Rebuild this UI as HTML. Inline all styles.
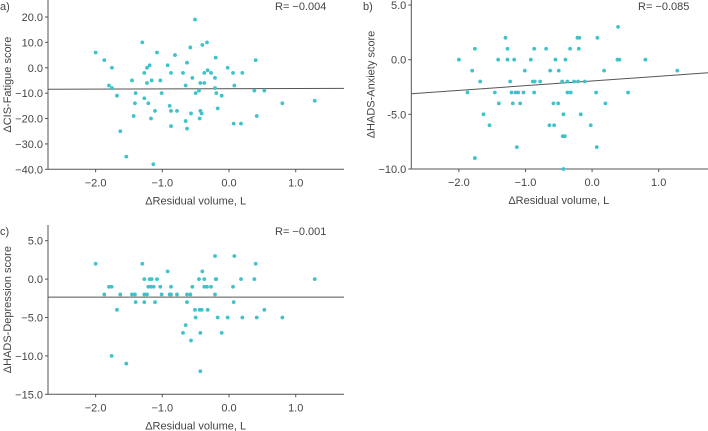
<!DOCTYPE html>
<html><head><meta charset="utf-8"><style>
html,body{margin:0;padding:0;background:#fff;}
svg{display:block;font-family:"Liberation Sans",sans-serif;}
text{fill:#444;font-size:11px;}
</style></head><body>
<svg id="chart" width="708" height="431" viewBox="0 0 708 431"></svg>
<script>
const xTicks=[-2,-1,0,1];
const xTickLabels=["\u22122.0","\u22121.0","0.0","1.0"];
const aX=[-2.0,-1.87,-1.755,-1.8,-1.755,-1.68,-1.63,-1.54,-1.455,-1.43,-1.41,-1.4,-1.3,-1.27,-1.27,-1.23,-1.23,-1.21,-1.19,-1.17,-1.16,-1.135,-1.11,-1.08,-1.03,-1.01,-0.92,-0.89,-0.87,-0.87,-0.87,-0.81,-0.78,-0.69,-0.65,-0.65,-0.63,-0.63,-0.58,-0.57,-0.55,-0.51,-0.5,-0.45,-0.44,-0.43,-0.43,-0.41,-0.4,-0.37,-0.37,-0.33,-0.32,-0.27,-0.21,-0.21,-0.2,-0.19,-0.17,-0.11,-0.02,0.06,0.07,0.08,0.18,0.2,0.38,0.4,0.415,0.53,0.8,1.285];
const aY=[6,3,0,-7,-8,-11,-25,-35,-5,-19,-14,-10,10,-2,-12,0,-6,-14,1,-20,-5,-38,-17,6,-5,-10,1,-15,-2,-17,-23,5,-17,-2,-7,-21,2,-24,8,-18,-4,19,-10,-9,-20,-6,-17,-18,9,-2,-6,10,-1,-2,-4,-8,4,-10,-16,-11,0,-2,-22,-7,-22,-2,-9,3,-19,-9,-14,-13];
const bX=[-2,-1.87,-1.8,-1.76,-1.76,-1.68,-1.63,-1.54,-1.46,-1.41,-1.4,-1.3,-1.27,-1.27,-1.23,-1.21,-1.19,-1.17,-1.15,-1.13,-1.11,-1.08,-1.03,-1.01,-0.92,-0.89,-0.87,-0.87,-0.86,-0.78,-0.69,-0.64,-0.63,-0.58,-0.57,-0.55,-0.51,-0.5,-0.45,-0.44,-0.43,-0.43,-0.41,-0.4,-0.37,-0.37,-0.33,-0.32,-0.27,-0.22,-0.21,-0.2,-0.19,-0.17,-0.11,-0.02,0.06,0.07,0.08,0.18,0.2,0.38,0.39,0.41,0.54,0.8,1.28];
const bY=[0,-3,-1,1,-9,-2,-5,-6,-3,0,-4,2,1,0,-2,-3,-4,0,-3,-8,-3,-4,-3,-1,0,-2,1,-3,-2,-2,1,-6,-1,-4,-6,0,-4,-1,-2,-7,-5,-10,-7,0,-2,-3,1,-3,-2,2,-2,1,2,-5,-2,-6,-3,-8,2,-1,-4,0,3,0,-3,0,-1];
const cX=[-2,-1.87,-1.8,-1.76,-1.76,-1.68,-1.63,-1.54,-1.455,-1.41,-1.4,-1.3,-1.27,-1.27,-1.27,-1.23,-1.21,-1.19,-1.17,-1.16,-1.13,-1.11,-1.08,-1.03,-1.01,-0.92,-0.89,-0.87,-0.87,-0.78,-0.69,-0.65,-0.63,-0.63,-0.58,-0.57,-0.55,-0.51,-0.5,-0.45,-0.44,-0.43,-0.43,-0.41,-0.4,-0.37,-0.37,-0.33,-0.32,-0.27,-0.21,-0.21,-0.2,-0.19,-0.17,-0.11,-0.02,0.06,0.07,0.08,0.18,0.2,0.38,0.4,0.415,0.53,0.8,1.285];
const cY=[2,-2,-1,-1,-10,-4,-2,-11,-2,-2,-3,2,0,-2,-3,-2,-1,0,-1,0,-1,-3,0,-1,-2,1,-2,-1,-2,-2,-7,-6,-2,-3,-2,-8,-1,-4,-5,0,-4,-7,-12,-4,1,0,-1,-1,-4,-1,3,-2,0,0,-5,-7,-5,-1,-3,3,0,-5,0,2,-5,-4,-5,0];
const aYTicks=[20,10,0,-10,-20,-30,-40];
const aYTickLabels=["20.0","10.0","0.0","\u221210.0","\u221220.0","\u221230.0","\u221240.0"];
const bYTicks=[5,0,-5,-10];
const bYTickLabels=["5.0","0.0","-5.0","\u221210.0"];
const cYTicks=[5,0,-5,-10,-15];
const cYTickLabels=["5.0","0.0","\u22125.0","\u221210.0","\u221215.0"];
const aFit=[-8.25,0.07];
const bFit=[-1.95,0.43];
const cFit=[-2.35,0.0];

const NS="http://www.w3.org/2000/svg";
const svg=document.getElementById('chart');
function mk(tag,attrs,parent){const e=document.createElementNS(NS,tag);for(const k in attrs)e.setAttribute(k,attrs[k]);parent.appendChild(e);return e;}

function panel(p){
  const g=mk('g',{},svg);
  
  
  const xs=v=>p.x0+(v-p.xd0)/(p.xd1-p.xd0)*(p.x1-p.x0);
  const ys=v=>p.yb+(v-p.yd0)/(p.yd1-p.yd0)*(p.yt-p.yb);
  const ax=mk('line',{x1:p.x0,y1:p.yb,x2:p.x1,y2:p.yb,stroke:'#555','stroke-width':1},g);
  
  
  const ay=mk('line',{x1:p.x0,y1:p.yTop,x2:p.x0,y2:p.yb,stroke:'#555','stroke-width':1},g);
  
  
  xTicks.forEach((t,i)=>{
    const x=xs(t);
    mk('line',{x1:x,y1:p.yb,x2:x,y2:p.yb+3,stroke:'#555'},g);
    const tx=mk('text',{x:x,y:p.yb+17,'text-anchor':'middle'},g);
    tx.textContent=xTickLabels[i];
    
    
  });
  p.yt_.forEach((t,i)=>{
    const y=ys(t);
    mk('line',{x1:p.x0-3,y1:y,x2:p.x0,y2:y,stroke:'#555'},g);
    const tx=mk('text',{x:p.x0-5,y:y+4,'text-anchor':'end'},g);
    tx.textContent=p.ytl[i];
    
    
  });
  const fy0=p.fit[0]+p.fit[1]*p.xd0, fy1=p.fit[0]+p.fit[1]*p.xd1;
  const fl=mk('line',{x1:p.x0,y1:ys(fy0),x2:p.x1,y2:ys(fy1),stroke:'#555','stroke-width':1},g);
  
  
  p.dx.forEach((v,i)=>{
    const c=mk('circle',{cx:xs(v),cy:ys(p.dy[i]),r:1.9,fill:'#3ec3cc'},g);
    
    
  });
  const xt=mk('text',{x:(xs(-2)+xs(1))/2,y:p.yb+35,'text-anchor':'middle','font-size':'12'},g);
  xt.textContent='\u0394Residual volume, L';
  
  
  const yt=mk('text',{x:0,y:0,'text-anchor':'middle','font-size':'12',transform:`translate(${p.x0-37},${(p.yTop+p.yb)/2}) rotate(-90)`},g);
  yt.textContent=p.ytitle;
  
  
  const r=mk('text',{x:p.rx,y:p.ry},g);
  r.textContent=p.rtext;
  
  
  const l=mk('text',{x:p.lx,y:p.ly},g);
  l.textContent=p.label;
  
  
}
panel({name:'panel-a-fatigue',x0:48,x1:344,xd0:-2.714,xd1:1.724,yb:169.3,yt:17,yd0:-40,yd1:20,yTop:0,yt_:aYTicks,ytl:aYTickLabels,dx:aX,dy:aY,fit:aFit,ytitle:'\u0394CIS-Fatigue score',rtext:'R= \u22120.004',rx:275,ry:10,label:'a)',lx:0,ly:10});
panel({name:'panel-b-anxiety',x0:411.3,x1:708,xd0:-2.714,xd1:1.74,yb:169,yt:5,yd0:-10,yd1:5,yTop:0,yt_:bYTicks,ytl:bYTickLabels,dx:bX,dy:bY,fit:bFit,ytitle:'\u0394HADS-Anxiety score',rtext:'R= \u22120.085',rx:638,ry:10,label:'b)',lx:363,ly:10});
panel({name:'panel-c-depression',x0:48,x1:344,xd0:-2.714,xd1:1.724,yb:394.3,yt:240.7,yd0:-15,yd1:5,yTop:225,yt_:cYTicks,ytl:cYTickLabels,dx:cX,dy:cY,fit:cFit,ytitle:'\u0394HADS-Depression score',rtext:'R= \u22120.001',rx:275,ry:235,label:'c)',lx:0,ly:235});
</script>
</body></html>
